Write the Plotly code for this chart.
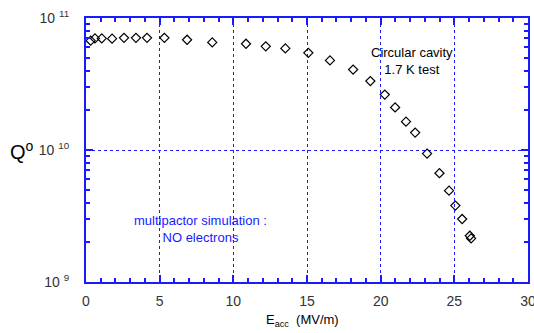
import plotly.graph_objects as go

e_acc = [0.32, 0.61, 1.07, 1.77, 2.58, 3.39, 4.14, 5.32, 6.86, 8.57, 10.86, 12.2,
         13.53, 15.09, 16.56, 18.13, 19.3, 20.28, 20.98, 21.72, 22.34, 23.15,
         23.99, 24.64, 25.07, 25.53, 26.05, 26.14]
q0 = [6.73e10, 7.0e10, 7.0e10, 6.97e10, 7.08e10, 7.08e10, 7.08e10, 7.08e10,
      6.84e10, 6.53e10, 6.38e10, 6.1e10, 5.88e10, 5.45e10, 4.77e10, 4.07e10,
      3.33e10, 2.63e10, 2.1e10, 1.64e10, 1.355e10, 9.4e9, 6.67e9, 4.92e9,
      3.79e9, 3.0e9, 2.24e9, 2.14e9]

x_ticks = [0, 5, 10, 15, 20, 25, 30]
y_ticks = [1e9, 1e10, 1e11]
y_ticktext = ["10 <sup>9</sup>", "10 <sup>10</sup>", "10 <sup>11</sup>"]

BLUE = "#1a1aff"
FONT = "Liberation Sans, Arial, sans-serif"

fig = go.Figure()
fig.add_trace(go.Scatter(
    x=e_acc, y=q0, mode="markers",
    marker=dict(symbol="diamond-open", size=7, color="black", line=dict(width=1.2)),
    showlegend=False,
))

fig.update_layout(
    width=534, height=333,
    margin=dict(l=86, r=6, t=18, b=51, autoexpand=False),
    paper_bgcolor="white", plot_bgcolor="white",
    font=dict(family=FONT, size=14, color="#333333"),
    xaxis=dict(
        range=[0, 30], tickvals=x_ticks, ticktext=[str(v) for v in x_ticks],
        showline=True, linecolor=BLUE, linewidth=2, mirror="ticks",
        ticks="inside", ticklen=7, tickcolor=BLUE, tickwidth=1.5,
        showgrid=True, gridcolor=BLUE, griddash="dot", gridwidth=1,
        zeroline=False, automargin=False, ticklabeloverflow="allow",
        minor=dict(dtick=1, ticks="inside", ticklen=4, tickcolor=BLUE, showgrid=False),
        tickfont=dict(size=14, color="#333333"),
        ticklabelstandoff=5,
    ),
    yaxis=dict(
        type="log", range=[9, 11], tickvals=y_ticks, ticktext=y_ticktext,
        showline=True, linecolor=BLUE, linewidth=2, mirror="ticks",
        ticks="inside", ticklen=7, tickcolor=BLUE, tickwidth=1.5,
        showgrid=True, gridcolor=BLUE, griddash="dot", gridwidth=1,
        zeroline=False, automargin=False, ticklabeloverflow="allow",
        minor=dict(dtick="D1", ticks="inside", ticklen=4, tickcolor=BLUE, showgrid=False),
        tickfont=dict(size=14, color="#333333"),
        ticklabelstandoff=12,
    ),
    annotations=[
        dict(text="Q<sup>o</sup>", xref="paper", yref="paper", x=-0.113, y=0.5,
             xanchor="right", yanchor="middle", showarrow=False,
             font=dict(size=20, color="black", family=FONT)),
        dict(text="E<sub>acc</sub>  (MV/m)", xref="paper", yref="paper", x=0.49, y=-0.105,
             xanchor="center", yanchor="top", showarrow=False,
             font=dict(size=13, color="black", family=FONT)),
        dict(text="Circular cavity<br>1.7 K test", xref="x", yref="paper", x=22.13, y=0.839,
             xanchor="center", yanchor="middle", showarrow=False,
             font=dict(size=13, color="black", family=FONT)),
        dict(text="multipactor simulation :<br>NO electrons", xref="x", yref="paper", x=7.74, y=0.199,
             xanchor="center", yanchor="middle", showarrow=False,
             font=dict(size=13, color=BLUE, family=FONT)),
    ],
)

fig.write_html("out.html", config={"displayModeBar": False},
               post_script="document.body.style.margin='0';document.body.style.padding='0';")
